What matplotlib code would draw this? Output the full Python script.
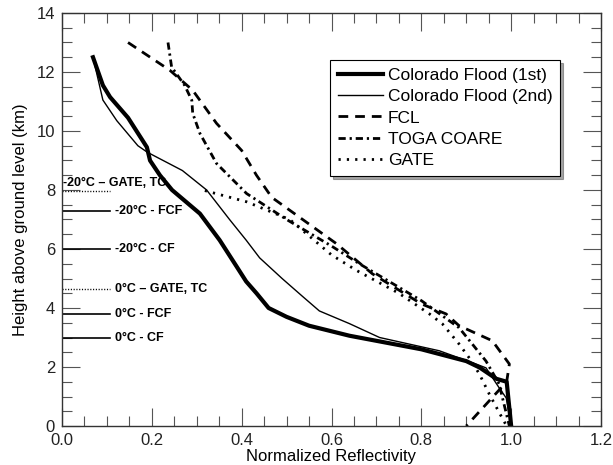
"""
Normalized reflectivity profiles vs height, with freezing level markers
"""

import matplotlib
matplotlib.use("Agg")
import matplotlib.pyplot as plt
from matplotlib.ticker import MultipleLocator


plt.rcParams['font.family'] = ['Liberation Sans', 'DejaVu Sans']


# Colorado Flood (1st) -- thick solid
cf1_x = [0.069, 0.091, 0.107, 0.147, 0.189, 0.196, 0.218, 0.245, 0.307, 0.351,
         0.389, 0.41, 0.433, 0.46, 0.50, 0.55, 0.64, 0.80, 0.90, 0.93, 0.967, 0.99, 1.0]
cf1_y = [12.5, 11.55, 11.15, 10.45, 9.45, 9.0, 8.5, 8.0, 7.2, 6.3,
         5.4, 4.9, 4.5, 4.0, 3.7, 3.4, 3.06, 2.6, 2.2, 1.98, 1.6, 1.5, 0.0]

# Colorado Flood (2nd) -- thin solid
cf2_x = [0.069, 0.091, 0.122, 0.169, 0.19, 0.268, 0.322, 0.373, 0.41, 0.44,
         0.49, 0.535, 0.573, 0.64, 0.707, 0.84, 0.922, 0.944, 0.973, 0.989, 1.0]
cf2_y = [12.5, 11.05, 10.35, 9.5, 9.28, 8.66, 8.0, 7.0, 6.3, 5.7,
         5.0, 4.4, 3.9, 3.47, 3.0, 2.55, 2.1, 1.97, 1.3, 0.95, 0.0]

# FCL -- dashed
fcl_x = [0.147, 0.24, 0.291, 0.344, 0.40, 0.433, 0.467, 0.611, 0.691, 0.80,
         0.855, 0.884, 0.958, 0.996, 0.99, 0.90]
fcl_y = [13.0, 12.06, 11.38, 10.26, 9.34, 8.5, 7.75, 6.18, 5.16, 4.14,
         3.8, 3.4, 2.89, 2.1, 1.5, 0.0]

# TOGA COARE -- dash dot
toga_x = [0.236, 0.244, 0.273, 0.289, 0.291, 0.307, 0.344, 0.411, 0.50, 0.60,
          0.662, 0.80, 0.884, 0.907, 0.944, 0.973, 0.996]
toga_y = [13.0, 12.17, 11.55, 11.04, 10.6, 9.92, 8.9, 7.88, 7.0, 6.1,
          5.5, 4.25, 3.33, 2.9, 2.2, 1.43, 0.0]

# GATE -- dotted
gate_x = [0.318, 0.411, 0.507, 0.60, 0.656, 0.75, 0.818, 0.847, 0.884, 0.907,
          0.929, 0.951, 0.98, 0.99]
gate_y = [7.98, 7.6, 7.0, 5.8, 5.27, 4.5, 3.8, 3.46, 2.78, 2.3,
          1.77, 1.09, 0.27, 0.0]

# temperature level markers on the left
lvl_h = [7.98, 7.3, 6.0, 4.65, 3.8, 3.0]
lvl_txt = ["-20\u00b0C \u2013 GATE, TC", "-20\u00b0C - FCF", "-20\u00b0C - CF",
           "0\u00b0C \u2013 GATE, TC", "0\u00b0C - FCF", "0\u00b0C - CF"]
lvl_dotted = [True, False, False, True, False, False]


fig = plt.figure(figsize=(6.13, 4.65), dpi=100)
ax = fig.add_axes([62/613., 1-426/465., 539/613., 413/465.])

ax.plot(cf1_x, cf1_y, color="black", linewidth=3.0, label="Colorado Flood (1st)")
ax.plot(cf2_x, cf2_y, color="black", linewidth=1.0, label="Colorado Flood (2nd)")
ax.plot(fcl_x, fcl_y, color="black", linewidth=2.0, dashes=(3.5, 2.5), label="FCL")
ax.plot(toga_x, toga_y, color="black", linewidth=2.0, dashes=(2.6, 1.4, 0.8, 1.4),
        label="TOGA COARE")
ax.plot(gate_x, gate_y, color="black", linewidth=2.0, dashes=(0.8, 2.2), label="GATE")

# the short marker lines + labels
for h, t, dot in zip(lvl_h, lvl_txt, lvl_dotted):
    if dot:
        ax.plot([0, 0.107], [h, h], color="black", linewidth=1.0, dashes=(0.8, 1.2))
    else:
        ax.plot([0, 0.107], [h, h], color="black", linewidth=1.2)
    if t.startswith("-20") and dot:
        ax.text(0.003, h + 0.25, t, fontsize=9, fontweight="bold", va="center", ha="left")
    else:
        ax.text(0.118, h, t, fontsize=9, fontweight="bold", va="center", ha="left")

ax.set_xlim(0, 1.2)
ax.set_ylim(0, 14)
ax.xaxis.set_major_locator(MultipleLocator(0.2))
ax.xaxis.set_minor_locator(MultipleLocator(0.05))
ax.yaxis.set_major_locator(MultipleLocator(2))
ax.yaxis.set_minor_locator(MultipleLocator(0.5))
ax.xaxis.set_major_formatter(plt.FormatStrFormatter("%.1f"))
ax.tick_params(which="both", direction="in", top=True, right=True, color="#555555",
               width=0.8, labelsize=12, labelcolor="#222222")
ax.tick_params(which="major", length=13)
ax.tick_params(which="minor", length=7)
ax.tick_params(axis="x", pad=5)
ax.tick_params(axis="y", pad=5)
for s in ax.spines.values():
    s.set_color("#333333")
    s.set_linewidth(1.0)

ax.set_xlabel("Normalized Reflectivity", fontsize=12, labelpad=1)
ax.set_ylabel("Height above ground level (km)", fontsize=12, labelpad=6)

leg = ax.legend(loc="upper left", bbox_to_anchor=(0.497, 0.886), fontsize=12.5,
                frameon=True, fancybox=False, shadow=True, edgecolor="black",
                borderpad=0.45, handlelength=2.6, handletextpad=0.3, labelspacing=0.35,
                borderaxespad=0)
leg.get_frame().set_linewidth(0.8)

fig.savefig("out.png", dpi=100)
